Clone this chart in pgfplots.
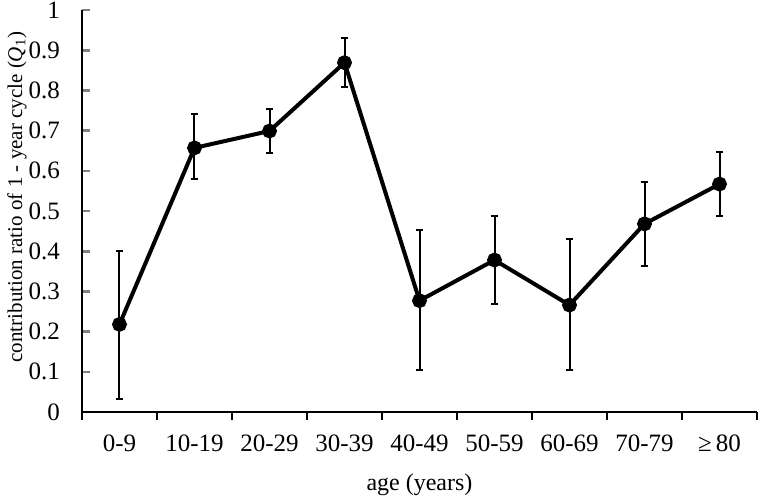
\documentclass[border=0pt]{standalone}
\usepackage{pgfplots}
\pgfplotsset{compat=1.18}
\usepackage{fontspec}
\setmainfont{Liberation Serif}
\begin{document}
\begin{tikzpicture}
\useasboundingbox (-41pt,-44pt) rectangle (339pt,206pt);
\begin{axis}[
  at={(0,0)}, anchor=south west,
  scale only axis,
  width=337.5pt, height=201pt,
  xmin=-0.5, xmax=8.5, ymin=0, ymax=1,
  axis x line*=bottom, axis y line*=left,
  axis line style={line width=1.3pt},
  xtick={0,...,8},
  xticklabels={0-9,10-19,20-29,30-39,40-49,50-59,60-69,70-79,≥\,80},
  x tick style={draw=none},
  extra x ticks={-0.5,0.5,...,8.5},
  extra x tick labels={},
  extra x tick style={tick align=outside, major tick length=4pt,
    x tick style={draw=black, line width=1.3pt}},
  ytick={0,0.1,...,1.0},
  yticklabels={0,0.1,0.2,0.3,0.4,0.5,0.6,0.7,0.8,0.9,1},
  y tick style={line width=1.3pt},
  tick align=inside,
  major tick length=4pt,
  tick label style={font=\fontsize{12.5}{14}\selectfont},
  yticklabel style={xshift=-7.5pt},
  xticklabel style={yshift=-8pt},
  /pgf/number format/assume math mode=true,
  xlabel={age (years)},
  xlabel style={font=\fontsize{12}{14}\selectfont, at={(axis description cs:0.5,0)}, anchor=center, yshift=-36.5pt},
  ylabel={contribution ratio of 1 - year cycle (\textit{Q}\textsubscript{1})},
  ylabel style={font=\fontsize{10.5}{13}\selectfont, at={(axis description cs:-0.0963,0.535)}, anchor=center},
  clip=false,
]
\addplot[black, line width=2pt, mark=*, mark size=2.7pt,
  error bars/.cd, y dir=both, y explicit,
  error bar style={line width=1pt},
  error mark options={rotate=90, mark size=1.8pt, line width=1pt}]
coordinates {
  (0,0.218) += (0,0.183) -= (0,0.186)
  (1,0.657) += (0,0.084) -= (0,0.078)
  (2,0.699) += (0,0.055) -= (0,0.055)
  (3,0.869) += (0,0.062) -= (0,0.060)
  (4,0.277) += (0,0.176) -= (0,0.173)
  (5,0.378) += (0,0.110) -= (0,0.109)
  (6,0.266) += (0,0.165) -= (0,0.162)
  (7,0.468) += (0,0.104) -= (0,0.104)
  (8,0.567) += (0,0.081) -= (0,0.079)
};
\end{axis}
\end{tikzpicture}
\end{document}
